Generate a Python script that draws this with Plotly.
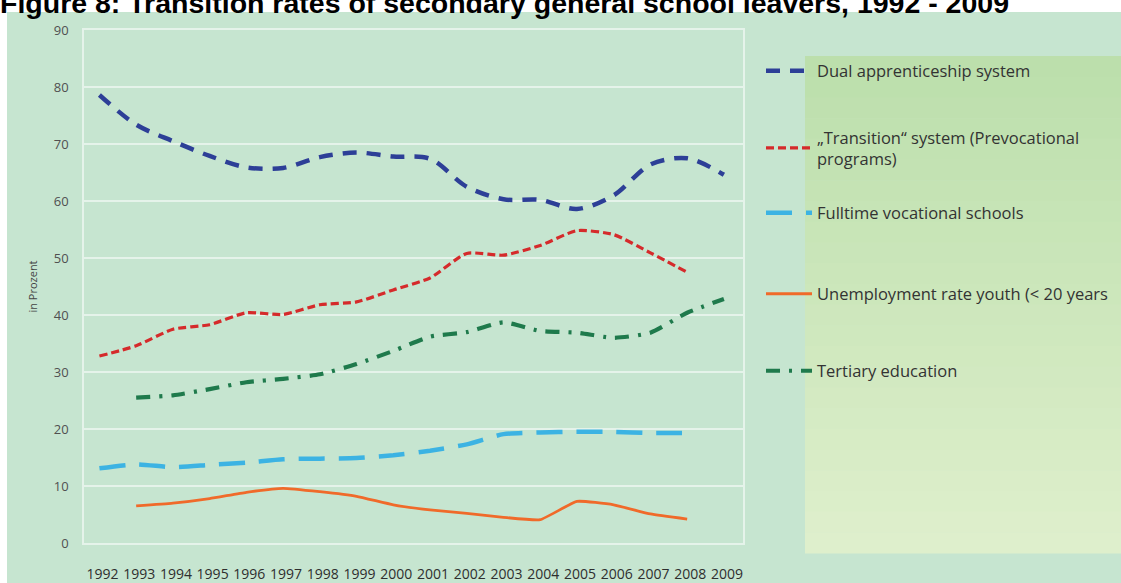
import plotly.graph_objects as go

# ---- data ----
YEARS_ALL = list(range(1992, 2010))
YEARS_92_08 = list(range(1992, 2009))
YEARS_93_08 = list(range(1993, 2009))
YEARS_93_09 = list(range(1993, 2010))

dual = [78.6, 73.4, 70.5, 67.9, 65.9, 65.8, 67.7, 68.5, 67.8, 67.4,
        62.5, 60.3, 60.2, 58.6, 61.0, 66.4, 67.5, 64.6]
transition = [32.8, 34.6, 37.5, 38.3, 40.4, 40.1, 41.8, 42.3, 44.4, 46.5,
              50.8, 50.5, 52.2, 54.8, 54.1, 50.9, 47.5]
fulltime = [13.1, 13.8, 13.3, 13.7, 14.1, 14.7, 14.8, 14.9, 15.4, 16.2,
            17.3, 19.1, 19.4, 19.5, 19.5, 19.3, 19.3]
unemployment = [6.5, 7.0, 7.8, 8.9, 9.6, 9.0, 8.2, 6.7, 5.8, 5.2,
                4.5, 4.1, 7.3, 6.7, 5.1, 4.2]
tertiary = [25.5, 25.9, 27.0, 28.2, 28.8, 29.6, 31.4, 33.7, 36.2, 37.0,
            38.7, 37.2, 36.9, 36.0, 36.9, 40.4, 42.8]

TITLE = "Figure 8: Transition rates of secondary general school leavers, 1992 - 2009"
Y_TICKS = [0, 10, 20, 30, 40, 50, 60, 70, 80, 90]

COLORS = {
    "dual": "#2d3f97",
    "transition": "#d52a2b",
    "fulltime": "#3cb3e3",
    "unemployment": "#f06a2a",
    "tertiary": "#1f7a4c",
    "bg": "#c6e5d0",
    "grid": "rgba(255,255,255,0.55)",
    "text": "#333333",
}
FONT = "Open Sans, Noto Sans, sans-serif"

# plot area in pixels (1121 x 583 page)
W, H = 1121, 583
L, R, T, B = 84, 743, 30, 543
PW, PH = R - L, B - T


def px_x(p):
    return (p - L) / PW


def px_y(p):
    return (B - p) / PH


fig = go.Figure()

series = [
    ("Dual apprenticeship system", YEARS_ALL, dual, "dual", "14px,10px", 4.5, 0.9, "legend", 71),
    ("„Transition“ system (Prevocational<br>programs)", YEARS_92_08, transition,
     "transition", "8px,4px", 3.2, 0.6, "legend2", 148),
    ("Fulltime vocational schools", YEARS_92_08, fulltime, "fulltime", "26px,14px", 4.5, 0.6, "legend3", 213),
    ("Unemployment rate youth (< 20 years", YEARS_93_08, unemployment, "unemployment", "solid", 2.8, 0.4, "legend4", 294),
    ("Tertiary education", YEARS_93_09, tertiary, "tertiary", "14px,9px,3px,9px", 4.2, 0.6, "legend5", 371),
]

legend_layouts = {}
for name, xs, ys, key, dash, width, smooth, leg, ly in series:
    fig.add_trace(go.Scatter(
        x=xs, y=ys, mode="lines", name=name, legend=leg,
        line=dict(color=COLORS[key], width=width, dash=dash,
                  shape="spline", smoothing=smooth),
        hoverinfo="skip",
    ))
    legend_layouts[leg] = dict(
        x=px_x(761), y=px_y(ly), xanchor="left", yanchor="middle",
        bgcolor="rgba(0,0,0,0)", borderwidth=0, itemwidth=46,
        font=dict(family=FONT, size=16.5, color=COLORS["text"]),
        itemclick=False, itemdoubleclick=False,
    )

# background image area and legend panel
shapes = [
    dict(type="rect", xref="paper", yref="paper", layer="below",
         x0=px_x(7), x1=px_x(W + 2), y0=px_y(H + 2), y1=px_y(12),
         fillcolor=COLORS["bg"], line=dict(width=0)),
]
top_rgb = (188, 223, 172)
bot_rgb = (222, 239, 204)
n_band = 24
p_top, p_bot = 56, 553
for i in range(n_band):
    f = i / (n_band - 1)
    c = tuple(round(a + (b - a) * f) for a, b in zip(top_rgb, bot_rgb))
    y0p = p_top + (p_bot - p_top) * i / n_band
    y1p = p_top + (p_bot - p_top) * (i + 1) / n_band
    shapes.append(dict(type="rect", xref="paper", yref="paper", layer="below",
                       x0=px_x(805), x1=px_x(W + 2), y0=px_y(y1p + 0.5), y1=px_y(y0p),
                       fillcolor="rgb(%d,%d,%d)" % c, line=dict(width=0)))

fig.update_layout(
    width=W, height=H,
    margin=dict(l=L, r=W - R, t=T, b=H - B, pad=0, autoexpand=False),
    paper_bgcolor="white",
    plot_bgcolor="rgba(0,0,0,0)",
    font=dict(family=FONT, size=12, color=COLORS["text"]),
    shapes=shapes,
    showlegend=True,
    **legend_layouts,
    annotations=[dict(
        text="<b>" + TITLE + "</b>", xref="paper", yref="paper",
        x=px_x(-2), y=px_y(21), xanchor="left", yanchor="bottom", showarrow=False,
        font=dict(family="Liberation Sans, Arial, sans-serif", size=28.5, color="black"),
    )],
)

fig.update_xaxes(
    range=[1991.58, 2009.52], tickmode="array", tickvals=YEARS_ALL,
    ticktext=[str(y) for y in YEARS_ALL], showgrid=False, zeroline=False,
    showline=True, linecolor=COLORS["grid"], linewidth=1.5, mirror=True,
    ticks="", ticklabelstandoff=17, ticklabelshift=3, automargin=False,
    tickfont=dict(family=FONT, size=14, color="#2e2e2e"),
)
fig.update_yaxes(
    range=[0, 90], tickmode="array", tickvals=Y_TICKS,
    showgrid=True, gridcolor=COLORS["grid"], gridwidth=1.5, zeroline=False,
    showline=True, linecolor=COLORS["grid"], linewidth=1.5, mirror=True,
    ticks="", ticklabelstandoff=11, automargin=False,
    tickfont=dict(family=FONT, size=13, color="#505050"),
    title=dict(text="in Prozent", standoff=14,
               font=dict(family=FONT, size=11, color="#444444")),
)

fig.write_html("out.html", config={"displayModeBar": False},
               post_script="document.body.style.margin='0';")
